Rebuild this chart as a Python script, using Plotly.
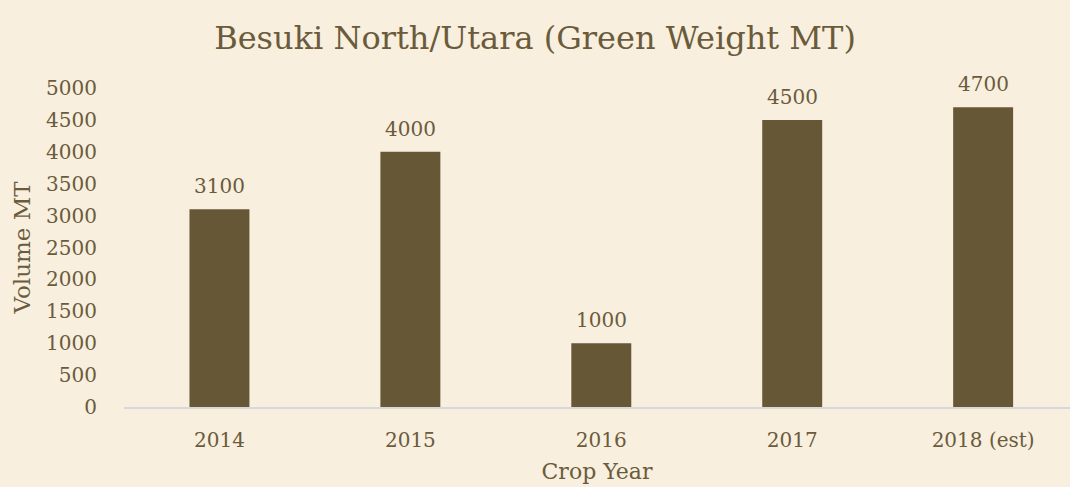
import plotly.graph_objects as go

categories = ["2014", "2015", "2016", "2017", "2018 (est)"]
values = [3100, 4000, 1000, 4500, 4700]
tick_vals = [0, 500, 1000, 1500, 2000, 2500, 3000, 3500, 4000, 4500, 5000]

BG = "#F8EFDF"
BAR = "#665737"
TXT = "#6B5B3B"
FONT = "Georgia, 'DejaVu Serif', 'Liberation Serif', serif"

fig = go.Figure()
fig.add_trace(go.Bar(x=categories, y=values, marker_color=BAR, marker_line_width=0))

for i, v in enumerate(values):
    fig.add_annotation(x=i, y=v, text=str(v), showarrow=False, yanchor="bottom",
                       yshift=9, font=dict(size=20, color=TXT, family=FONT))

fig.update_layout(
    width=1070, height=487,
    paper_bgcolor=BG, plot_bgcolor=BG,
    margin=dict(l=124, r=0, t=88, b=80),
    bargap=0.686,
    showlegend=False,
    font=dict(family=FONT, color=TXT, size=18),
    title=dict(text="Besuki North/Utara (Green Weight MT)", x=0.5, xref="container",
               xanchor="center", y=1 - 38 / 487, yanchor="middle",
               font=dict(size=32, color=TXT, family=FONT)),
)
fig.update_xaxes(
    type="category",
    range=[-0.5, 4.455], showgrid=False, showline=True, linecolor="#D6D8DC", linewidth=2,
    ticks="outside", ticklen=14, tickcolor="rgba(0,0,0,0)",
    tickfont=dict(size=20, color=TXT, family=FONT),
    title=dict(text="Crop Year", font=dict(size=22, color=TXT, family=FONT), standoff=13),
)
fig.update_yaxes(
    range=[0, 5000], tickvals=tick_vals, showgrid=False, zeroline=False, showline=False,
    ticks="outside", ticklen=22, tickcolor="rgba(0,0,0,0)",
    tickfont=dict(size=20, color=TXT, family=FONT),
    title=dict(text="Volume MT", font=dict(size=23, color=TXT, family=FONT), standoff=9),
)

fig.write_html(
    "out.html",
    config={"displayModeBar": False},
    post_script="document.body.style.margin='0';document.body.style.background='%s';" % BG,
)
